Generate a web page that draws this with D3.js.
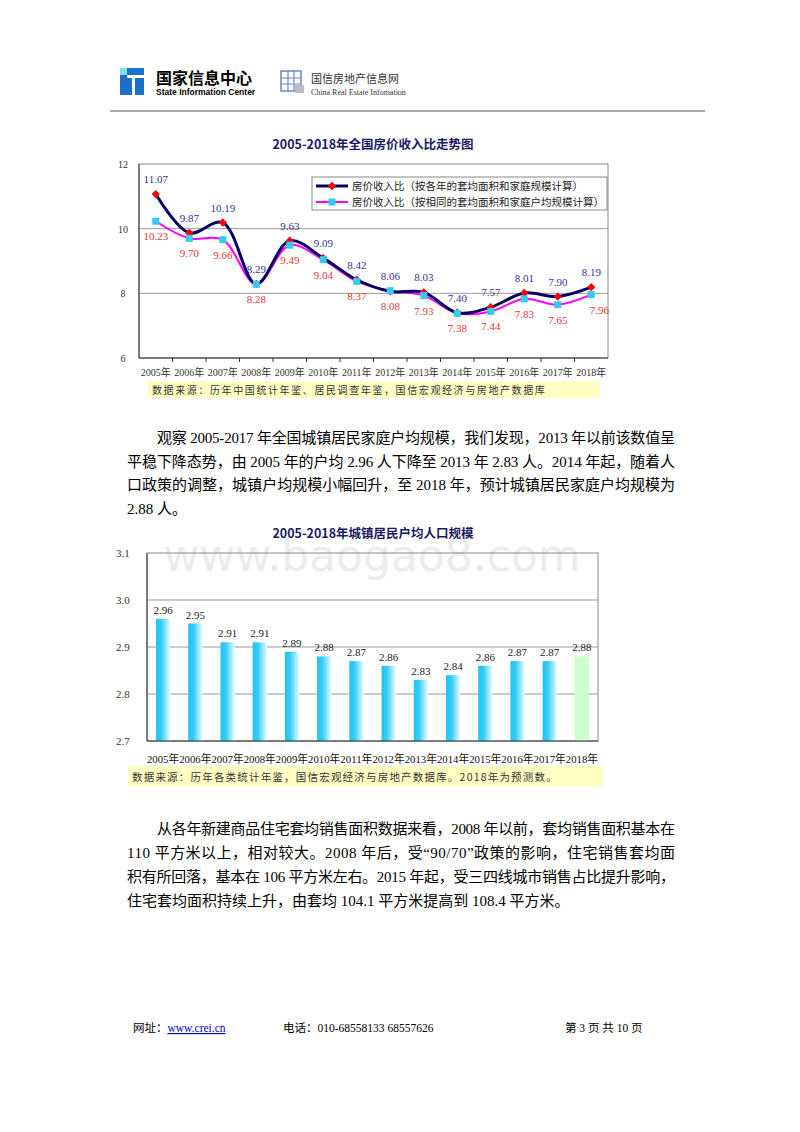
<!DOCTYPE html>
<html><head><meta charset="utf-8">
<script src="https://cdn.jsdelivr.net/npm/d3@7"></script>
<style>body{margin:0;background:#fff}svg{display:block}</style>
</head><body><svg width="800" height="1132"></svg>
<script>
// data
const years = ['2005年','2006年','2007年','2008年','2009年','2010年','2011年','2012年','2013年','2014年','2015年','2016年','2017年','2018年']
const ratioActual = [11.07, 9.87, 10.19, 8.29, 9.63, 9.09, 8.42, 8.06, 8.03, 7.40, 7.57, 8.01, 7.90, 8.19]
const ratioFixed = [10.23, 9.70, 9.66, 8.28, 9.49, 9.04, 8.37, 8.08, 7.93, 7.38, 7.44, 7.83, 7.65, 7.96]
const ratioTicks = [6, 8, 10, 12]
const householdSize = [2.96, 2.95, 2.91, 2.91, 2.89, 2.88, 2.87, 2.86, 2.83, 2.84, 2.86, 2.87, 2.87, 2.88]
const sizeTicks = [2.7, 2.8, 2.9, 3.0, 3.1]

const serif = "'Liberation Serif','DejaVu Serif','Noto Sans CJK SC',serif"
const sans = "'Noto Sans CJK SC','Noto Sans',sans-serif"
const svg = d3.select('svg')

//## HEADER ##
svg.append('rect').attr('x', 120).attr('y', 68).attr('width', 24).attr('height', 27).attr('fill', '#1a6fc9')
svg.append('rect').attr('x', 120).attr('y', 68).attr('width', 7).attr('height', 7).attr('fill', '#7fe0e0')
svg.append('rect').attr('x', 127).attr('y', 75).attr('width', 17).attr('height', 3).attr('fill', '#fff')
svg.append('rect').attr('x', 132).attr('y', 75).attr('width', 3).attr('height', 20).attr('fill', '#fff')
svg.append('text').attr('x', 156).attr('y', 84).attr('font-family', sans).attr('font-weight', 'bold').attr('font-size', 16).text('国家信息中心')
svg.append('text').attr('x', 156).attr('y', 95).attr('font-family', "'Liberation Sans',sans-serif").attr('font-weight', 'bold').attr('font-size', 8.5).text('State Information Center')
const lg = svg.append('g').attr('transform', 'translate(281,71)')
lg.append('rect').attr('width', 20).attr('height', 20).attr('fill', 'none').attr('stroke', '#6688cc').attr('stroke-width', 1.5)
lg.append('path').attr('d', 'M0,7H20M0,13H20M7,0V20M13,0V20').attr('stroke', '#6688cc').attr('stroke-width', 1.2)
lg.append('rect').attr('x', 14).attr('y', 14).attr('width', 9).attr('height', 8).attr('fill', '#bbbbcc')
svg.append('text').attr('x', 311).attr('y', 83).attr('font-family', sans).attr('font-size', 11).attr('fill', '#333').text('国信房地产信息网')
svg.append('text').attr('x', 311).attr('y', 95).attr('font-family', serif).attr('font-size', 8).attr('fill', '#333').text('China Real Estate Infomation')
svg.append('line').attr('x1', 110).attr('x2', 705).attr('y1', 111).attr('y2', 111).attr('stroke', '#555').attr('stroke-width', 1.2)

//## CHART 1 ##
const c1 = { left: 139, right: 608, top: 164, bottom: 358 }
const x1 = d3.scaleBand().domain(years).range([c1.left, c1.right])
const y1 = d3.scaleLinear().domain([6, 12]).range([c1.bottom, c1.top])
const g1 = svg.append('g')
g1.append('text').attr('x', 373).attr('y', 149).attr('text-anchor', 'middle').attr('font-family', sans).attr('font-weight', 'bold').attr('font-size', 12.5).attr('fill', '#1a1a66').text('2005-2018年全国房价收入比走势图')
g1.selectAll('.grid').data(ratioTicks.slice(1, 3)).enter().append('line')
  .attr('x1', c1.left).attr('x2', c1.right).attr('y1', d => y1(d)).attr('y2', d => y1(d)).attr('stroke', '#999')
g1.append('rect').attr('x', c1.left).attr('y', c1.top).attr('width', c1.right - c1.left).attr('height', c1.bottom - c1.top).attr('fill', 'none').attr('stroke', '#888')
g1.append('line').attr('x1', c1.left).attr('x2', c1.right).attr('y1', c1.bottom).attr('y2', c1.bottom).attr('stroke', '#333')
g1.append('line').attr('x1', c1.left).attr('x2', c1.left).attr('y1', c1.top).attr('y2', c1.bottom).attr('stroke', '#333')
g1.selectAll('.tk').data(years.slice(1)).enter().append('line')
  .attr('x1', d => x1(d)).attr('x2', d => x1(d)).attr('y1', c1.bottom).attr('y2', c1.bottom + 4).attr('stroke', '#333')
g1.selectAll('.yl').data(ratioTicks).enter().append('text')
  .attr('x', 123).attr('y', d => y1(d) + 4).attr('text-anchor', 'middle').attr('font-family', serif).attr('font-size', 10).attr('fill', '#333').text(d => d)
g1.selectAll('.xl').data(years).enter().append('text')
  .attr('x', d => x1(d) + x1.bandwidth() / 2).attr('y', 376).attr('text-anchor', 'middle').attr('font-family', serif).attr('font-size', 10).attr('fill', '#333').text(d => d)
const cx = (d, i) => x1(years[i]) + x1.bandwidth() / 2
const line1 = d3.line().x(cx).y(d => y1(d)).curve(d3.curveCatmullRom)
g1.append('path').datum(ratioFixed).attr('d', line1).attr('fill', 'none').attr('stroke', '#ff00ff').attr('stroke-width', 2)
g1.append('path').datum(ratioActual).attr('d', line1).attr('fill', 'none').attr('stroke', '#000066').attr('stroke-width', 3)
g1.selectAll('.dia').data(ratioActual).enter().append('path')
  .attr('d', d3.symbol(d3.symbolDiamond2, 44)).attr('transform', (d, i) => `translate(${cx(d, i)},${y1(d)})`).attr('fill', '#ff0000')
g1.selectAll('.sq').data(ratioFixed).enter().append('rect')
  .attr('x', (d, i) => cx(d, i) - 3.5).attr('y', d => y1(d) - 3.5).attr('width', 7).attr('height', 7).attr('fill', '#33ccee')
g1.selectAll('.la').data(ratioActual).enter().append('text')
  .attr('x', cx).attr('y', d => y1(d) - 11).attr('text-anchor', 'middle').attr('font-family', serif).attr('font-size', 11).attr('fill', '#333399').text(d => d.toFixed(2))
g1.selectAll('.lf').data(ratioFixed).enter().append('text')
  .attr('x', (d, i) => cx(d, i) + (i === 13 ? 8 : 0)).attr('y', d => y1(d) + 19).attr('text-anchor', 'middle').attr('font-family', serif).attr('font-size', 11).attr('fill', '#ee3333').text(d => d.toFixed(2))
// legend
const leg = g1.append('g').attr('transform', 'translate(312,177)')
leg.append('rect').attr('width', 295).attr('height', 33).attr('fill', '#fff').attr('stroke', '#888')
const legItems = [['房价收入比（按各年的套均面积和家庭规模计算）', '#000066', 3], ['房价收入比（按相同的套均面积和家庭户均规模计算）', '#ff00ff', 2]]
legItems.forEach((it, i) => {
  const yy = 9 + i * 16
  leg.append('line').attr('x1', 4).attr('x2', 36).attr('y1', yy).attr('y2', yy).attr('stroke', it[1]).attr('stroke-width', it[2])
  if (i === 0) leg.append('path').attr('d', d3.symbol(d3.symbolDiamond2, 44)).attr('transform', `translate(20,${yy})`).attr('fill', '#ff0000')
  else leg.append('rect').attr('x', 16.5).attr('y', yy - 3.5).attr('width', 7).attr('height', 7).attr('fill', '#33ccee')
  leg.append('text').attr('x', 40).attr('y', yy + 4).attr('font-family', serif).attr('font-size', 10.5).attr('fill', '#222').text(it[0])
})
g1.append('rect').attr('x', 148).attr('y', 381).attr('width', 452).attr('height', 17).attr('fill', '#ffffc4')
g1.append('text').attr('x', 152).attr('y', 394).attr('font-family', sans).attr('font-size', 10).attr('fill', '#333').attr('letter-spacing', 1.6).text('数据来源：历年中国统计年鉴、居民调查年鉴，国信宏观经济与房地产数据库')

//## PARAGRAPHS ##
const para = (lines, y0, gap) => lines.forEach((l, i) => {
  const t = svg.append('text').attr('x', i === 0 ? 157 : 127).attr('y', y0 + i * gap).attr('font-family', serif).attr('font-size', 15).attr('fill', '#000').text(l[0])
  if (l[1]) t.attr('textLength', 675 - (i === 0 ? 157 : 127)).attr('lengthAdjust', 'spacing')
})
para([
  ['观察 2005-2017 年全国城镇居民家庭户均规模，我们发现，2013 年以前该数值呈', true],
  ['平稳下降态势，由 2005 年的户均 2.96 人下降至 2013 年 2.83 人。2014 年起，随着人', true],
  ['口政策的调整，城镇户均规模小幅回升，至 2018 年，预计城镇居民家庭户均规模为', true],
  ['2.88 人。', false]], 443, 23.5)
para([
  ['从各年新建商品住宅套均销售面积数据来看，2008 年以前，套均销售面积基本在', true],
  ['110 平方米以上，相对较大。2008 年后，受“90/70”政策的影响，住宅销售套均面', true],
  ['积有所回落，基本在 106 平方米左右。2015 年起，受三四线城市销售占比提升影响，', true],
  ['住宅套均面积持续上升，由套均 104.1 平方米提高到 108.4 平方米。', false]], 834, 24)

//## CHART 2 ##
const c2 = { left: 147, right: 598, top: 553, bottom: 741 }
const x2 = d3.scaleBand().domain(years).range([c2.left, c2.right]).paddingInner(0.56).paddingOuter(0.28)
const y2 = d3.scaleLinear().domain([2.7, 3.1]).range([c2.bottom, c2.top])
const defs = svg.append('defs')
const grad = defs.append('linearGradient').attr('id', 'barGrad')
grad.append('stop').attr('offset', '0%').attr('stop-color', '#22c4f0')
grad.append('stop').attr('offset', '35%').attr('stop-color', '#30ccf4')
grad.append('stop').attr('offset', '100%').attr('stop-color', '#e6fbff')
const g2 = svg.append('g')
g2.append('text').attr('x', 372).attr('y', 571).attr('text-anchor', 'middle').attr('font-family', "'DejaVu Sans','Liberation Sans',sans-serif").attr('font-size', 44).attr('fill', '#ececec').text('www.baogao8.com')
g2.append('text').attr('x', 373).attr('y', 538).attr('text-anchor', 'middle').attr('font-family', sans).attr('font-weight', 'bold').attr('font-size', 12.5).attr('fill', '#1a1a66').text('2005-2018年城镇居民户均人口规模')
g2.selectAll('.grid').data(sizeTicks.slice(1, 4)).enter().append('line')
  .attr('x1', c2.left).attr('x2', c2.right).attr('y1', d => y2(d)).attr('y2', d => y2(d)).attr('stroke', '#999')
g2.append('rect').attr('x', c2.left).attr('y', c2.top).attr('width', c2.right - c2.left).attr('height', c2.bottom - c2.top).attr('fill', 'none').attr('stroke', '#888')
g2.selectAll('.bar').data(householdSize).enter().append('rect')
  .attr('x', (d, i) => x2(years[i])).attr('y', d => y2(d)).attr('width', x2.bandwidth()).attr('height', d => c2.bottom - y2(d))
  .attr('fill', (d, i) => i === 13 ? '#ccffcc' : 'url(#barGrad)')
g2.append('line').attr('x1', c2.left).attr('x2', c2.right).attr('y1', c2.bottom).attr('y2', c2.bottom).attr('stroke', '#333')
g2.append('line').attr('x1', c2.left).attr('x2', c2.left).attr('y1', c2.top).attr('y2', c2.bottom).attr('stroke', '#333')
g2.selectAll('.yl').data(sizeTicks).enter().append('text')
  .attr('x', 116).attr('y', d => y2(d) + 4).attr('font-family', serif).attr('font-size', 11).attr('fill', '#333').text(d => d.toFixed(1))
g2.selectAll('.bl').data(householdSize).enter().append('text')
  .attr('x', (d, i) => x2(years[i]) + x2.bandwidth() / 2).attr('y', d => y2(d) - 5).attr('text-anchor', 'middle').attr('font-family', serif).attr('font-size', 11).attr('fill', '#222').text(d => d.toFixed(2))
const step2 = (c2.right - c2.left) / years.length
g2.selectAll('.xl').data(years).enter().append('text')
  .attr('x', (d, i) => c2.left + step2 * (i + 0.5)).attr('y', 763).attr('text-anchor', 'middle').attr('font-family', serif).attr('font-size', 11).attr('fill', '#111').attr('textLength', step2).attr('lengthAdjust', 'spacingAndGlyphs').text(d => d)
g2.append('rect').attr('x', 128).attr('y', 766).attr('width', 475).attr('height', 21).attr('fill', '#ffffc4')
g2.append('text').attr('x', 132).attr('y', 781).attr('font-family', sans).attr('font-size', 10.5).attr('fill', '#333').attr('letter-spacing', 1.2).text('数据来源：历年各类统计年鉴，国信宏观经济与房地产数据库。2018年为预测数。')

//## FOOTER ##
const ft = svg.append('g').attr('font-family', serif).attr('font-size', 11.5).attr('fill', '#000')
const f1 = ft.append('text').attr('x', 133).attr('y', 1032)
f1.append('tspan').text('网址：')
f1.append('tspan').attr('fill', '#0000cc').attr('text-decoration', 'underline').text('www.crei.cn')
ft.append('text').attr('x', 283).attr('y', 1032).text('电话：010-68558133 68557626')
ft.append('text').attr('x', 565).attr('y', 1032).text('第 3 页 共 10 页')
</script></body></html>
